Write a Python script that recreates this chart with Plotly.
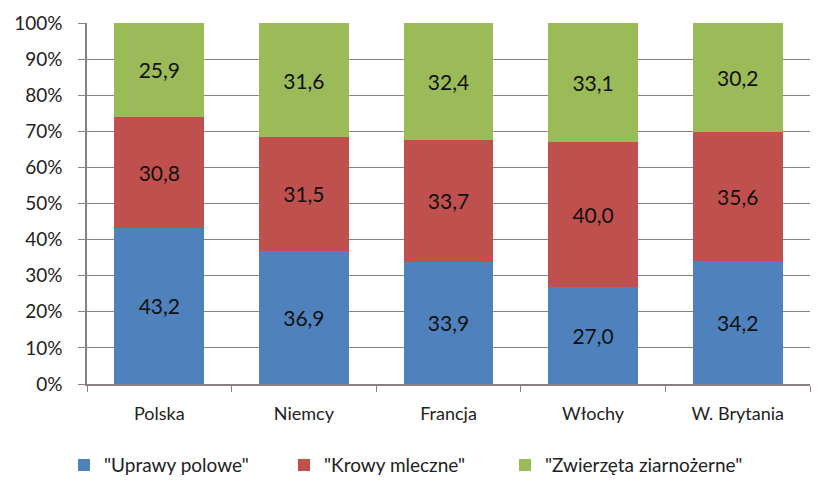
import plotly.graph_objects as go

categories = ["Polska", "Niemcy", "Francja", "Włochy", "W. Brytania"]
uprawy = [43.2, 36.9, 33.9, 27.0, 34.2]
krowy = [30.8, 31.5, 33.7, 40.0, 35.6]
zwierzeta = [25.9, 31.6, 32.4, 33.1, 30.2]
series_names = ['"Uprawy polowe"', '"Krowy mleczne"', '"Zwierzęta ziarnożerne"']
colors = ["#4F81BD", "#C0504D", "#9BBB59"]
y_ticks = [0, 10, 20, 30, 40, 50, 60, 70, 80, 90, 100]
y_tick_labels = [f"{v}%" for v in y_ticks]

FONT = "Lato, Carlito, Calibri, sans-serif"
W, H = 818, 482

legend_ids = ["legend", "legend2", "legend3"]
legend_x_px = [64, 284, 505]

fig = go.Figure()
for name, vals, col, lid in zip(series_names, [uprawy, krowy, zwierzeta], colors, legend_ids):
    fig.add_trace(go.Bar(
        x=categories, y=vals, name=name, legend=lid,
        marker=dict(color=col, line=dict(width=0)),
        text=[f"{v:.1f}".replace(".", ",") for v in vals],
        textposition="inside", insidetextanchor="middle",
        textfont=dict(family=FONT, size=21, color="#111111"),
        hoverinfo="skip",
    ))

legend_common = dict(orientation="h", xanchor="left", xref="container",
                     y=0.035, yanchor="middle", yref="container",
                     font=dict(family=FONT, size=19, color="#222222"),
                     itemwidth=30, bgcolor="rgba(0,0,0,0)")
legends = {lid: dict(legend_common, x=px / W) for lid, px in zip(legend_ids, legend_x_px)}

fig.update_layout(
    barmode="stack", barnorm="percent", bargap=0.38,
    width=W, height=H,
    margin=dict(l=87, r=8, t=23, b=98, autoexpand=False),
    paper_bgcolor="white", plot_bgcolor="white",
    font=dict(family=FONT, size=18, color="#222222"),
    uniformtext=dict(mode="show", minsize=10),
    showlegend=True,
    **legends,
)
fig.update_xaxes(
    showline=True, linecolor="#8a8080", linewidth=1.5,
    ticks="outside", tickson="boundaries", ticklen=6, tickcolor="#8a8080",
    tickfont=dict(family=FONT, size=18, color="#222222"),
    ticklabelstandoff=13, automargin=False,
    showgrid=False,
)
fig.update_yaxes(
    range=[0, 100], tickvals=y_ticks, ticktext=y_tick_labels,
    showline=True, linecolor="#8a8080", linewidth=1.5,
    ticks="outside", ticklen=7, tickcolor="#8a8080",
    showgrid=True, gridcolor="#8a8080", gridwidth=1,
    tickfont=dict(family=FONT, size=19, color="#222222"),
    ticklabelstandoff=12, automargin=False,
    zeroline=False,
)
fig.write_html("out.html", config={"displayModeBar": False},
               post_script="document.body.style.margin='0';")
